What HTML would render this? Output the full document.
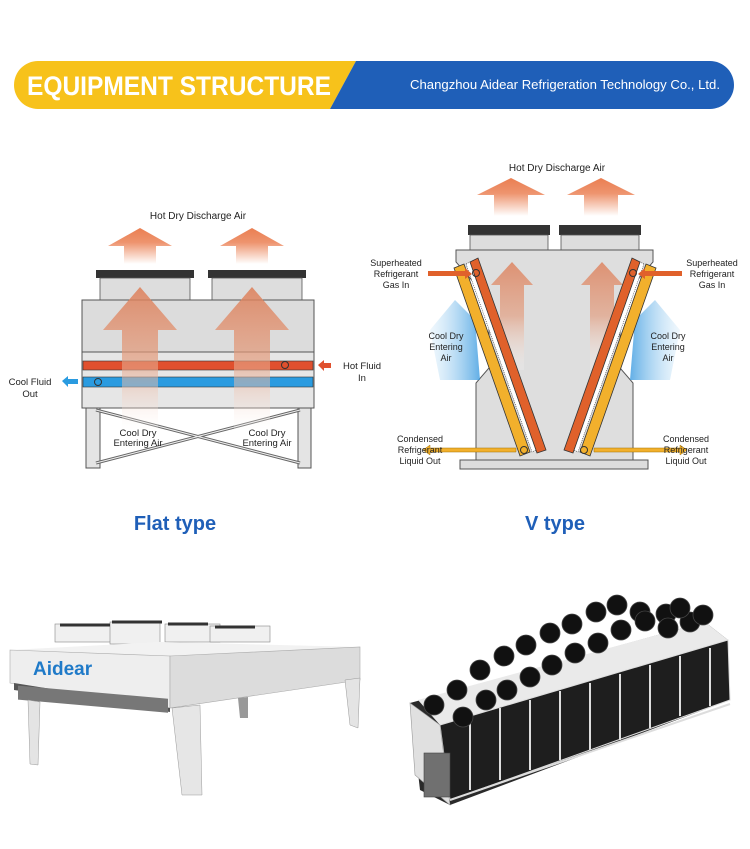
<!DOCTYPE html>
<html><head><meta charset="utf-8"><style>
html,body{margin:0;padding:0;background:#fff;}
svg{display:block;font-family:"Liberation Sans",sans-serif;}
</style></head><body>
<svg width="750" height="849" viewBox="0 0 750 849" xmlns="http://www.w3.org/2000/svg">
<defs>
<linearGradient id="up" x1="0" y1="1" x2="0" y2="0">
<stop offset="0" stop-color="#e8703e" stop-opacity="0"/><stop offset="0.6" stop-color="#e8703e" stop-opacity="0.75"/><stop offset="1" stop-color="#e8703e" stop-opacity="0.9"/></linearGradient>
<linearGradient id="up2" x1="0" y1="1" x2="0" y2="0">
<stop offset="0" stop-color="#ffffff" stop-opacity="0.2"/><stop offset="0.5" stop-color="#e39a7a" stop-opacity="0.8"/><stop offset="1" stop-color="#dd7e58"/></linearGradient>
<linearGradient id="blueL" x1="0" y1="0" x2="1" y2="0">
<stop offset="0" stop-color="#bfe0f6" stop-opacity="0.3"/><stop offset="1" stop-color="#3b9be0"/></linearGradient>
<linearGradient id="blueR" x1="1" y1="0" x2="0" y2="0">
<stop offset="0" stop-color="#bfe0f6" stop-opacity="0.3"/><stop offset="1" stop-color="#3b9be0"/></linearGradient>
</defs>

<!-- header -->
<path d="M38,61 H356 L330,109 H38 a24,24 0 0 1 -24,-24 a24,24 0 0 1 24,-24Z" fill="#f7c21b"/>
<path d="M356,61 H710 a24,24 0 0 1 24,24 a24,24 0 0 1 -24,24 H330Z" fill="#1f5fb8"/>
<text x="27" y="95" font-size="27" font-weight="bold" fill="#fff" textLength="304" lengthAdjust="spacingAndGlyphs">EQUIPMENT STRUCTURE</text>
<text x="410" y="89" font-size="12.5" fill="#fff" textLength="310" lengthAdjust="spacingAndGlyphs">Changzhou Aidear Refrigeration Technology Co., Ltd.</text>

<!-- FLAT TYPE -->
<text x="198" y="219" font-size="10" text-anchor="middle" fill="#222">Hot Dry Discharge Air</text>
<path d="M108,246 L140,228 L172,246 H156 V264 H124 V246Z" fill="url(#up)"/>
<path d="M220,246 L252,228 L284,246 H268 V264 H236 V246Z" fill="url(#up)"/>
<rect x="96" y="270" width="98" height="8" fill="#333"/>
<rect x="100" y="278" width="90" height="22" fill="#ddd" stroke="#555" stroke-width="0.8"/>
<rect x="208" y="270" width="98" height="8" fill="#333"/>
<rect x="212" y="278" width="90" height="22" fill="#ddd" stroke="#555" stroke-width="0.8"/>
<rect x="82" y="300" width="232" height="52" fill="#dcdcdc" stroke="#555"/>
<rect x="82" y="352" width="232" height="56" fill="#e6e6e6" stroke="#555"/>
<rect x="83" y="361" width="230" height="9" fill="#e0502e" stroke="#333" stroke-width="0.6"/>
<rect x="83" y="377" width="230" height="10" fill="#2a9be0" stroke="#333" stroke-width="0.6"/>
<circle cx="285" cy="365" r="3.5" fill="none" stroke="#333"/>
<circle cx="98" cy="382" r="3.5" fill="none" stroke="#333"/>
<rect x="86" y="408" width="14" height="60" fill="#e4e4e4" stroke="#555"/>
<rect x="298" y="408" width="13" height="60" fill="#e4e4e4" stroke="#555"/>
<line x1="96" y1="410" x2="300" y2="463" stroke="#666" stroke-width="3"/>
<line x1="300" y1="410" x2="96" y2="463" stroke="#666" stroke-width="3"/>
<line x1="96" y1="410" x2="300" y2="463" stroke="#eee" stroke-width="1"/>
<line x1="300" y1="410" x2="96" y2="463" stroke="#eee" stroke-width="1"/>
<path d="M103,330 L140,287 L177,330 H158 V430 H122 V330Z" fill="url(#up2)" opacity="0.85"/>
<path d="M215,330 L252,287 L289,330 H270 V430 H234 V330Z" fill="url(#up2)" opacity="0.85"/>
<text x="138" y="436" font-size="9.5" text-anchor="middle" fill="#222">Cool Dry</text>
<text x="138" y="446" font-size="9.5" text-anchor="middle" fill="#222">Entering Air</text>
<text x="267" y="436" font-size="9.5" text-anchor="middle" fill="#222">Cool Dry</text>
<text x="267" y="446" font-size="9.5" text-anchor="middle" fill="#222">Entering Air</text>
<text x="30" y="385" font-size="9.5" text-anchor="middle" fill="#222">Cool Fluid</text>
<text x="30" y="397" font-size="9.5" text-anchor="middle" fill="#222">Out</text>
<path d="M62,381 L68,376 V379 H78 V384 H68 V387Z" fill="#2a9be0"/>
<path d="M318,365 L324,360 V363 H331 V368 H324 V371Z" fill="#e0502e"/>
<text x="362" y="369" font-size="9.5" text-anchor="middle" fill="#222">Hot Fluid</text>
<text x="362" y="381" font-size="9.5" text-anchor="middle" fill="#222">In</text>
<text x="175" y="530" font-size="20" font-weight="bold" text-anchor="middle" fill="#1f5fb8">Flat type</text>

<!-- V TYPE -->
<text x="557" y="171" font-size="10" text-anchor="middle" fill="#222">Hot Dry Discharge Air</text>
<path d="M477,195 L511,178 L545,195 H528 V216 H494 V195Z" fill="url(#up)"/>
<path d="M567,195 L601,178 L635,195 H618 V216 H584 V195Z" fill="url(#up)"/>
<rect x="468" y="225" width="82" height="10" fill="#333"/>
<rect x="470" y="235" width="78" height="15" fill="#ddd" stroke="#555" stroke-width="0.8"/>
<rect x="559" y="225" width="82" height="10" fill="#333"/>
<rect x="561" y="235" width="78" height="15" fill="#ddd" stroke="#555" stroke-width="0.8"/>
<path d="M456,250 H653 V262 L620,300 V368 L633,383 V460 H476 V383 L489,368 V300 L456,262Z" fill="#dedede" stroke="#555"/>
<rect x="460" y="460" width="188" height="9" fill="#ddd" stroke="#555"/>
<path d="M491,285 L512,262 L533,285 H524 V370 H500 V285Z" fill="url(#up2)" opacity="0.8"/>
<path d="M581,285 L602,262 L623,285 H614 V370 H590 V285Z" fill="url(#up2)" opacity="0.8"/>
<path d="M430,330 L455,300 L475,320 L480,380 L440,380Z" fill="url(#blueL)" opacity="0.8"/>
<path d="M680,330 L655,300 L635,320 L630,380 L670,380Z" fill="url(#blueR)" opacity="0.8"/>
<polygon points="454,268 464,264 530,452 520,456" fill="#f2b02c" stroke="#333" stroke-width="0.8"/>
<polygon points="466,264 470,262 536,450 532,452" fill="#fff" stroke="#333" stroke-width="0.6" stroke-dasharray="1,1"/>
<polygon points="470,262 478,258 546,450 537,453" fill="#e0612b" stroke="#333" stroke-width="0.8"/>
<polygon points="656,268 646,264 580,452 590,456" fill="#f2b02c" stroke="#333" stroke-width="0.8"/>
<polygon points="644,264 640,262 574,450 578,452" fill="#fff" stroke="#333" stroke-width="0.6" stroke-dasharray="1,1"/>
<polygon points="640,262 632,258 564,450 573,453" fill="#e0612b" stroke="#333" stroke-width="0.8"/>
<circle cx="476" cy="273" r="3.5" fill="none" stroke="#333"/>
<circle cx="633" cy="273" r="3.5" fill="none" stroke="#333"/>
<circle cx="524" cy="450" r="3.5" fill="#f2b02c" stroke="#333"/>
<circle cx="584" cy="450" r="3.5" fill="#f2b02c" stroke="#333"/>
<path d="M428,271 H465 V268 L472,274 L465,279 V276 H428Z" fill="#e0612b"/>
<path d="M682,271 H645 V268 L638,274 L645,279 V276 H682Z" fill="#e0612b"/>
<path d="M516,448 H430 V445 L423,450 L430,455 V452 H516Z" fill="#f2b02c" stroke="#a07000" stroke-width="0.5"/>
<path d="M594,448 H680 V445 L687,450 L680,455 V452 H594Z" fill="#f2b02c" stroke="#a07000" stroke-width="0.5"/>
<g font-size="9" fill="#222" text-anchor="middle">
<text x="396" y="266">Superheated</text><text x="396" y="277">Refrigerant</text><text x="396" y="288">Gas In</text>
<text x="712" y="266">Superheated</text><text x="712" y="277">Refrigerant</text><text x="712" y="288">Gas In</text>
<text x="446" y="339">Cool Dry</text><text x="446" y="350">Entering</text><text x="446" y="361">Air</text>
<text x="668" y="339">Cool Dry</text><text x="668" y="350">Entering</text><text x="668" y="361">Air</text>
<text x="420" y="442">Condensed</text><text x="420" y="453">Refrigerant</text><text x="420" y="464">Liquid Out</text>
<text x="686" y="442">Condensed</text><text x="686" y="453">Refrigerant</text><text x="686" y="464">Liquid Out</text>
</g>
<text x="555" y="530" font-size="20" font-weight="bold" text-anchor="middle" fill="#1f5fb8">V type</text>

<!-- PHOTO LEFT -->
<g>
<rect x="55" y="624" width="60" height="18" fill="#f0f0f0" stroke="#888" stroke-width="0.6"/>
<rect x="110" y="622" width="50" height="22" fill="#f0f0f0" stroke="#888" stroke-width="0.6"/>
<rect x="165" y="624" width="55" height="18" fill="#f0f0f0" stroke="#888" stroke-width="0.6"/>
<rect x="210" y="626" width="60" height="16" fill="#f0f0f0" stroke="#888" stroke-width="0.6"/>
<path d="M60,625 h50 M112,622 h50 M168,624 h40 M215,627 h40" stroke="#333" stroke-width="3"/>
<polygon points="10,650 160,642 360,647 360,673 170,693 10,652" fill="#f2f2f2"/>
<polygon points="10,650 170,656 170,708 10,683" fill="#eeeeee" stroke="#aaa" stroke-width="0.6"/>
<polygon points="170,656 360,647 360,680 170,708" fill="#dcdcdc" stroke="#aaa" stroke-width="0.6"/>
<text x="33" y="675" font-size="19" font-weight="bold" fill="#1f7ac8">Aidear</text>
<polygon points="14,683 170,708 170,712 14,690" fill="#555"/>
<rect x="18" y="686" width="150" height="14" fill="#777" transform="skewY(5) translate(0,-2)"/>
<polygon points="28,700 40,702 38,765 30,764" fill="#e4e4e4" stroke="#999" stroke-width="0.5"/>
<polygon points="172,708 200,705 202,795 182,795" fill="#e6e6e6" stroke="#999" stroke-width="0.5"/>
<polygon points="345,680 360,678 358,728 350,725" fill="#e4e4e4" stroke="#999" stroke-width="0.5"/>
<polygon points="238,698 248,697 248,718 240,718" fill="#999"/>
</g>

<!-- PHOTO RIGHT -->
<g>
<polygon points="410,703 705,622 728,640 730,700 450,805 420,790" fill="#2a2a2a"/>
<polygon points="418,700 705,622 728,640 440,725" fill="#eaeaea"/>
<polygon points="440,725 728,640 730,700 450,800" fill="#1e1e1e" stroke="#ddd" stroke-width="1"/>
<polygon points="410,703 440,725 450,805 415,775" fill="#e0e0e0" stroke="#999" stroke-width="0.6"/>
<rect x="424" y="753" width="26" height="44" fill="#707070" stroke="#444" stroke-width="0.6"/>
<g stroke="#ddd" stroke-width="2">
<line x1="470" y1="717" x2="470" y2="790"/><line x1="500" y1="708" x2="500" y2="780"/>
<line x1="530" y1="700" x2="530" y2="770"/><line x1="560" y1="691" x2="560" y2="760"/>
<line x1="590" y1="683" x2="590" y2="750"/><line x1="620" y1="674" x2="620" y2="740"/>
<line x1="650" y1="665" x2="650" y2="728"/><line x1="680" y1="656" x2="680" y2="716"/>
<line x1="710" y1="648" x2="710" y2="706"/>
<line x1="450" y1="800" x2="730" y2="704"/>
</g>
<g fill="#111" stroke="#444" stroke-width="0.8">
<circle cx="434" cy="705" r="10"/><circle cx="457" cy="690" r="10"/>
<circle cx="463" cy="717" r="10"/><circle cx="486" cy="700" r="10"/>
<circle cx="480" cy="670" r="10"/><circle cx="504" cy="656" r="10"/>
<circle cx="507" cy="690" r="10"/><circle cx="530" cy="677" r="10"/>
<circle cx="526" cy="645" r="10"/><circle cx="550" cy="633" r="10"/>
<circle cx="552" cy="665" r="10"/><circle cx="575" cy="653" r="10"/>
<circle cx="572" cy="624" r="10"/><circle cx="596" cy="612" r="10"/>
<circle cx="598" cy="643" r="10"/><circle cx="621" cy="630" r="10"/>
<circle cx="617" cy="605" r="10"/><circle cx="640" cy="612" r="10"/>
<circle cx="645" cy="621" r="10"/><circle cx="666" cy="614" r="10"/>
<circle cx="668" cy="628" r="10"/><circle cx="690" cy="622" r="10"/>
<circle cx="680" cy="608" r="10"/><circle cx="703" cy="615" r="10"/>
</g>
</g>
</svg>
</body></html>
